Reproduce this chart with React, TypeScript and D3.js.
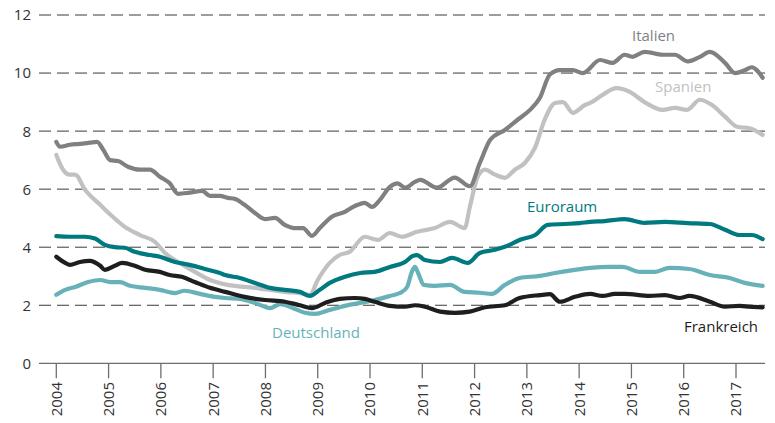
import React from "react";
import * as d3 from "d3";

const yTicks = [0, 2, 4, 6, 8, 10, 12];
const years = [2004, 2005, 2006, 2007, 2008, 2009, 2010, 2011, 2012, 2013, 2014, 2015, 2016, 2017];

// [years since 2004, value]
const italien: [number, number][] = [
  [0.00, 7.63], [0.07, 7.46], [0.26, 7.53], [0.45, 7.56], [0.64, 7.60], [0.78, 7.63], [0.90, 7.35], [1.03, 7.00],
  [1.18, 6.97], [1.37, 6.77], [1.60, 6.67], [1.79, 6.67], [1.98, 6.43], [2.17, 6.20], [2.33, 5.84], [2.55, 5.88],
  [2.79, 5.94], [2.94, 5.77], [3.13, 5.77], [3.28, 5.70], [3.42, 5.66], [3.60, 5.46], [3.80, 5.18], [3.99, 4.97],
  [4.18, 5.01], [4.37, 4.77], [4.56, 4.66], [4.72, 4.66], [4.89, 4.39], [5.04, 4.66], [5.27, 5.05], [5.52, 5.22],
  [5.71, 5.42], [5.90, 5.53], [6.04, 5.39], [6.19, 5.63], [6.38, 6.08], [6.53, 6.20], [6.67, 6.05], [6.86, 6.25],
  [6.96, 6.32], [7.28, 6.05], [7.62, 6.40], [7.91, 6.10], [8.10, 6.90], [8.30, 7.70], [8.58, 8.04], [8.83, 8.40],
  [9.06, 8.73], [9.25, 9.15], [9.44, 9.95], [9.63, 10.10], [9.88, 10.10], [10.07, 10.00], [10.40, 10.45],
  [10.64, 10.35], [10.87, 10.63], [11.02, 10.56], [11.25, 10.73], [11.60, 10.63], [11.83, 10.63], [12.08, 10.40],
  [12.31, 10.56], [12.50, 10.73], [12.79, 10.35], [12.98, 10.00], [13.17, 10.10], [13.30, 10.20], [13.51, 9.84],
];

const spanien: [number, number][] = [
  [0.00, 7.18], [0.13, 6.67], [0.26, 6.50], [0.36, 6.50], [0.55, 5.98], [0.84, 5.46], [1.08, 5.05], [1.31, 4.70],
  [1.60, 4.42], [1.89, 4.18], [2.08, 3.80], [2.36, 3.46], [2.65, 3.15], [2.94, 2.87], [3.23, 2.72], [3.80, 2.60],
  [4.37, 2.46], [4.66, 2.42], [4.85, 2.36], [5.00, 2.87], [5.23, 3.46], [5.42, 3.73], [5.61, 3.84], [5.90, 4.36],
  [6.15, 4.25], [6.38, 4.49], [6.61, 4.36], [6.90, 4.53], [7.24, 4.66], [7.53, 4.87], [7.81, 4.66], [7.91, 5.39],
  [8.06, 6.43], [8.20, 6.67], [8.39, 6.50], [8.58, 6.39], [8.77, 6.67], [8.96, 6.90], [9.16, 7.45], [9.34, 8.39],
  [9.54, 8.97], [9.69, 9.00], [9.88, 8.63], [10.11, 8.90], [10.21, 8.97], [10.45, 9.25], [10.71, 9.48],
  [10.96, 9.36], [11.25, 9.00], [11.60, 8.73], [11.83, 8.80], [12.06, 8.73], [12.31, 9.08], [12.54, 8.90],
  [12.79, 8.50], [13.02, 8.15], [13.26, 8.10], [13.51, 7.87],
];

const euroraum: [number, number][] = [
  [0.00, 4.38], [0.26, 4.36], [0.55, 4.36], [0.74, 4.30], [0.93, 4.08], [1.12, 4.00], [1.31, 3.98], [1.50, 3.84],
  [1.79, 3.73], [1.98, 3.67], [2.27, 3.49], [2.55, 3.39], [2.84, 3.25], [3.13, 3.11], [3.23, 3.04], [3.51, 2.94],
  [3.80, 2.77], [4.09, 2.60], [4.37, 2.53], [4.66, 2.46], [4.85, 2.32], [5.04, 2.53], [5.23, 2.77], [5.52, 2.98],
  [5.81, 3.11], [6.09, 3.15], [6.38, 3.32], [6.67, 3.49], [6.82, 3.70], [6.90, 3.73], [7.05, 3.56], [7.34, 3.49],
  [7.57, 3.63], [7.87, 3.46], [8.10, 3.80], [8.39, 3.91], [8.67, 4.08], [8.86, 4.25], [9.16, 4.42], [9.40, 4.77],
  [9.73, 4.80], [10.01, 4.83], [10.21, 4.87], [10.49, 4.90], [10.87, 4.97], [11.25, 4.84], [11.64, 4.87],
  [12.08, 4.83], [12.50, 4.80], [12.79, 4.60], [13.07, 4.42], [13.30, 4.42], [13.51, 4.28],
];

const frankreich: [number, number][] = [
  [0.00, 3.67], [0.17, 3.46], [0.26, 3.39], [0.45, 3.49], [0.64, 3.53], [0.84, 3.36], [0.93, 3.22], [1.12, 3.36],
  [1.26, 3.46], [1.50, 3.36], [1.70, 3.22], [1.98, 3.15], [2.17, 3.04], [2.40, 2.98], [2.65, 2.80], [2.94, 2.60],
  [3.23, 2.46], [3.60, 2.29], [3.99, 2.18], [4.37, 2.12], [4.66, 2.00], [4.89, 1.90], [5.14, 2.08], [5.42, 2.22],
  [5.71, 2.25], [5.90, 2.22], [6.09, 2.12], [6.38, 1.98], [6.67, 1.95], [6.86, 2.00], [7.05, 1.95], [7.34, 1.78],
  [7.62, 1.74], [7.91, 1.78], [8.20, 1.93], [8.58, 2.00], [8.86, 2.25], [9.25, 2.35], [9.44, 2.38], [9.63, 2.12],
  [9.92, 2.29], [10.21, 2.39], [10.45, 2.32], [10.68, 2.39], [10.87, 2.39], [11.35, 2.32], [11.64, 2.35],
  [11.92, 2.25], [12.11, 2.32], [12.50, 2.12], [12.79, 1.95], [13.07, 1.98], [13.26, 1.95], [13.51, 1.93],
];

const deutschland: [number, number][] = [
  [0.00, 2.36], [0.17, 2.53], [0.36, 2.63], [0.61, 2.80], [0.84, 2.87], [1.03, 2.80], [1.22, 2.80], [1.41, 2.67],
  [1.70, 2.60], [1.98, 2.53], [2.27, 2.42], [2.45, 2.50], [2.75, 2.39], [3.03, 2.29], [3.23, 2.25], [3.51, 2.22],
  [3.80, 2.08], [4.09, 1.90], [4.28, 2.04], [4.53, 1.90], [4.76, 1.74], [4.95, 1.70], [5.23, 1.84], [5.52, 1.98],
  [5.81, 2.08], [6.09, 2.18], [6.38, 2.32], [6.57, 2.42], [6.71, 2.63], [6.80, 3.15], [6.86, 3.32], [6.92, 3.11],
  [7.03, 2.70], [7.24, 2.67], [7.53, 2.70], [7.81, 2.46], [8.10, 2.43], [8.33, 2.39], [8.58, 2.70], [8.86, 2.94],
  [9.25, 3.01], [9.54, 3.11], [9.92, 3.22], [10.21, 3.29], [10.59, 3.32], [10.83, 3.32], [11.16, 3.15],
  [11.44, 3.15], [11.73, 3.29], [12.11, 3.25], [12.50, 3.04], [12.88, 2.94], [13.17, 2.77], [13.51, 2.67],
];

const seriesNames = ["Deutschland", "Frankreich", "Spanien", "Euroraum", "Italien"];
const seriesData = [deutschland, frankreich, spanien, euroraum, italien];
const seriesColors = ["#67b2b8", "#1e1e1e", "#c1c1c3", "#00797f", "#808083"];
const labelPos: Record<string, [number, number]> = {
  Italien: [632, 41],
  Spanien: [655, 92],
  Euroraum: [527, 212],
  Deutschland: [272, 338],
  Frankreich: [684, 332],
};

export default function App() {
  const W = 775, H = 423;
  const x = d3.scaleLinear().domain([0, 13]).range([56.3, 736]);
  const y = d3.scaleLinear().domain([0, 12]).range([363.3, 15]);
  const line = d3
    .line<[number, number]>()
    .x((d) => x(d[0]))
    .y((d) => y(d[1]))
    .curve(d3.curveMonotoneX);
  const font = "'Open Sans', 'DejaVu Sans', sans-serif";

  return (
    <svg width={W} height={H} style={{ position: "absolute", left: 0, top: 0 }} fontFamily={font}>
      {yTicks.map((t) => (
        <g key={t}>
          {t > 0 && (
            <line x1={39} x2={765} y1={y(t)} y2={y(t)} stroke="#3a3a3a" strokeWidth={1} strokeDasharray="12,6" />
          )}
          <text x={31} y={y(t)} dy="0.36em" textAnchor="end" fontSize={15} fill="#333">
            {t}
          </text>
        </g>
      ))}
      <line x1={39} x2={765} y1={y(0)} y2={y(0)} stroke="#6e6e6e" strokeWidth={1.3} />
      {years.map((yr, i) => (
        <g key={yr}>
          <line x1={x(i)} x2={x(i)} y1={y(0)} y2={y(0) + 15} stroke="#6e6e6e" strokeWidth={1.3} />
          <text
            transform={`translate(${x(i)},${382}) rotate(-90)`}
            textAnchor="end"
            dy="0.36em"
            fontSize={15}
            fill="#333"
          >
            {yr}
          </text>
        </g>
      ))}
      {seriesData.map((s, i) => (
        <path
          key={seriesNames[i]}
          d={line(s) || ""}
          fill="none"
          stroke={seriesColors[i]}
          strokeWidth={4.2}
          strokeLinejoin="round"
          strokeLinecap="round"
        />
      ))}
      {seriesNames.map((n, i) => (
        <text key={n} x={labelPos[n][0]} y={labelPos[n][1]} fontSize={15} fill={seriesColors[i]}>
          {n}
        </text>
      ))}
    </svg>
  );
}
